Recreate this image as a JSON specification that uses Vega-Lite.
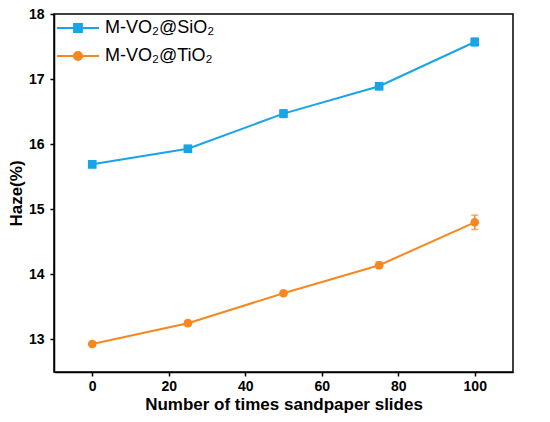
{
  "$schema": "https://vega.github.io/schema/vega-lite/v6.json",
  "width": 459,
  "height": 358,
  "autosize": {"type": "none"},
  "padding": {"left": 54, "top": 14, "right": 37, "bottom": 50},
  "background": "white",
  "data": {
    "values": [
      {"series": "M-VO₂@SiO₂", "slides": 0, "haze": 15.69, "err": 0.05},
      {"series": "M-VO₂@SiO₂", "slides": 25, "haze": 15.93, "err": 0.03},
      {"series": "M-VO₂@SiO₂", "slides": 50, "haze": 16.47, "err": 0.06},
      {"series": "M-VO₂@SiO₂", "slides": 75, "haze": 16.89, "err": 0.05},
      {"series": "M-VO₂@SiO₂", "slides": 100, "haze": 17.57, "err": 0.06},
      {"series": "M-VO₂@TiO₂", "slides": 0, "haze": 12.93, "err": 0.03},
      {"series": "M-VO₂@TiO₂", "slides": 25, "haze": 13.25, "err": 0.03},
      {"series": "M-VO₂@TiO₂", "slides": 50, "haze": 13.71, "err": 0.03},
      {"series": "M-VO₂@TiO₂", "slides": 75, "haze": 14.14, "err": 0.05},
      {"series": "M-VO₂@TiO₂", "slides": 100, "haze": 14.80, "err": 0.11}
    ]
  },
  "encoding": {
    "x": {
      "field": "slides",
      "type": "quantitative",
      "scale": {"domain": [-10, 110], "nice": false, "zero": false},
      "axis": {
        "title": "Number of times sandpaper slides",
        "values": [0, 20, 40, 60, 80, 100],
        "labelPadding": 3,
        "titlePadding": 3
      }
    },
    "y": {
      "field": "haze",
      "type": "quantitative",
      "scale": {"domain": [12.5, 18], "nice": false, "zero": false},
      "axis": {
        "title": "Haze(%)",
        "values": [13, 14, 15, 16, 17, 18],
        "labelPadding": 6,
        "titlePadding": 3
      }
    },
    "color": {
      "field": "series",
      "type": "nominal",
      "scale": {"domain": ["M-VO₂@SiO₂", "M-VO₂@TiO₂"], "range": ["#18a4e8", "#f7871e"]},
      "legend": {
        "title": null,
        "orient": "none",
        "legendX": 13,
        "legendY": 3,
        "padding": 0,
        "symbolSize": 400,
        "rowPadding": 8,
        "labelOffset": 16,
        "labelFont": "Liberation Sans",
        "labelFontSize": 18,
        "labelColor": "black",
        "encode": {
          "symbols": {
            "update": {
              "shape": {"signal": "datum.value === 'M-VO₂@SiO₂' ? 'M-2.1,0H2.1M-0.4,-0.4H0.4V0.4H-0.4Z' : 'M-2.1,0H2.1M-0.42,0A0.42,0.42 0 1,0 0.42,0A0.42,0.42 0 1,0 -0.42,0Z'"},
              "fill": {"scale": "color", "field": "value"},
              "stroke": {"scale": "color", "field": "value"},
              "strokeWidth": {"value": 1.8},
              "opacity": {"value": 1}
            }
          }
        }
      }
    }
  },
  "layer": [
    {"mark": {"type": "line", "strokeWidth": 2}},
    {
      "mark": {"type": "errorbar", "ticks": {"size": 7}, "thickness": 1.5},
      "encoding": {"yError": {"field": "err"}}
    },
    {
      "mark": {"type": "point", "filled": true, "opacity": 1},
      "encoding": {
        "shape": {
          "condition": {"test": "datum.series === 'M-VO₂@SiO₂'", "value": "square"},
          "value": "circle"
        },
        "size": {"value": 75}
      }
    }
  ],
  "config": {
    "view": {"stroke": "black", "strokeWidth": 1.5},
    "axis": {
      "grid": false,
      "domainColor": "black",
      "domainWidth": 1.5,
      "tickColor": "black",
      "tickWidth": 1.5,
      "tickSize": 4,
      "labelFont": "Liberation Sans",
      "labelFontSize": 14,
      "labelFontWeight": "bold",
      "labelColor": "black",
      "titleFont": "Liberation Sans",
      "titleFontSize": 17,
      "titleFontWeight": "bold",
      "titleColor": "black"
    }
  }
}
